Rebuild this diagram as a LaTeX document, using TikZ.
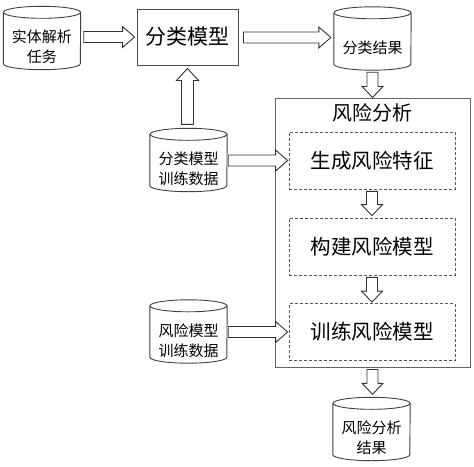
\documentclass[tikz,border=0pt]{standalone}
\usepackage{fontspec}
\newfontfamily\cjk{Noto Sans CJK SC}
\usetikzlibrary{calc}
\tikzset{
  every node/.style={font=\cjk},
  lineclr/.style={draw=black!75, line width=0.9pt},
  cylnode/.style={draw=none, minimum width=77pt, minimum height=63pt, inner sep=0pt},
  cyltext/.style={font=\cjk\fontsize{15pt}{20pt}\selectfont, align=center, yshift=-9pt},
  boxnode/.style={lineclr, draw=black!70, minimum width=101pt, minimum height=56pt, inner sep=0pt, font=\cjk\fontsize{21pt}{24pt}\selectfont},
  bigbox/.style={draw=black!60, line width=1pt, minimum width=195pt, minimum height=269pt, inner sep=0pt},
  dashbox/.style={draw=black!65, dashed, dash pattern=on 3pt off 2pt, line width=0.8pt, minimum width=166pt, minimum height=57pt, inner sep=0pt, font=\cjk\fontsize{20.5pt}{24pt}\selectfont},
  blockarr/.style={draw=black!80, line width=0.9pt, fill=white, line join=miter},
}
% cylinder outline around a named node
\newcommand\cylout[1]{%
  \draw[lineclr] ([yshift=-6pt]#1.north) ellipse[x radius=38.5pt, y radius=6pt];
  \draw[lineclr] ([yshift=-6pt]#1.north west) -- ([yshift=6pt]#1.south west)
     arc[start angle=180, end angle=360, x radius=38.5pt, y radius=6pt]
     -- ([yshift=-6pt]#1.north east);}
% hollow block arrows between two points
\newcommand\rarr[2]{%
  \draw[blockarr] let \p1=(#1), \p2=(#2) in
   (\x1,\y2+5.5pt) -- (\x2-12pt,\y2+5.5pt) -- (\x2-12pt,\y2+10.5pt) -- (\x2,\y2)
   -- (\x2-12pt,\y2-10.5pt) -- (\x2-12pt,\y2-5.5pt) -- (\x1,\y2-5.5pt) -- cycle;}
\newcommand\darr[2]{%
  \draw[blockarr] let \p1=(#1), \p2=(#2) in
   (\x1-5.5pt,\y1) -- (\x1-5.5pt,\y2+11pt) -- (\x1-10.5pt,\y2+11pt) -- (\x1,\y2)
   -- (\x1+10.5pt,\y2+11pt) -- (\x1+5.5pt,\y2+11pt) -- (\x1+5.5pt,\y1) -- cycle;}
\newcommand\uarr[2]{%
  \draw[blockarr] let \p1=(#1), \p2=(#2) in
   (\x2-6pt,\y1) -- (\x2-6pt,\y2-12pt) -- (\x2-11pt,\y2-12pt) -- (\x2,\y2)
   -- (\x2+11pt,\y2-12pt) -- (\x2+6pt,\y2-12pt) -- (\x2+6pt,\y1) -- cycle;}
\begin{document}
\begin{tikzpicture}[x=1pt,y=-1pt]
\useasboundingbox (0,0) rectangle (474,466);
% cylinders
\node[cylnode, label={[cyltext]center:实体解析\\任务}] (task) at (42,38) {};
\node[cylnode, label={[cyltext]center:分类结果}] (res) at (372.5,38.5) {};
\node[cylnode, label={[cyltext]center:分类模型\\训练数据}] (data1) at (188.5,160) {};
\node[cylnode, label={[cyltext]center:风险模型\\训练数据}] (data2) at (188.5,331.5) {};
\node[cylnode, label={[cyltext]center:风险分析\\结果}] (final) at (371.5,429) {};
\cylout{task}\cylout{res}\cylout{data1}\cylout{data2}\cylout{final}
% boxes
\node[boxnode] (model) at (187.5,37) {分类模型};
\node[bigbox] (risk) at (372.5,232.5) {};
\node[font=\cjk\fontsize{20pt}{24pt}\selectfont] (rtitle) at (372.5,113) {风险分析};
\node[dashbox] (gen) at (372,160.5) {生成风险特征};
\node[dashbox] (build) at (372,246.5) {构建风险模型};
\node[dashbox] (train) at (372,332) {训练风险模型};
% arrows
\rarr{[xshift=3pt]task.east}{[xshift=-2pt]model.west}
\rarr{[xshift=5pt]model.east}{[xshift=-3pt,yshift=1pt]res.west}
\uarr{[yshift=4pt]data1.north}{[yshift=-3pt]model.south}
\darr{[yshift=-2pt]res.south}{risk.north}
\rarr{[xshift=1pt]data1.east}{[xshift=-1pt]gen.west}
\darr{[yshift=-2pt]gen.south}{[yshift=2pt]build.north}
\darr{[yshift=-2pt]build.south}{[yshift=1pt]train.north}
\rarr{[xshift=1pt]data2.east}{[xshift=-1pt]train.west}
\darr{[yshift=-2pt]risk.south}{[yshift=3pt]final.north}
\end{tikzpicture}
\end{document}
